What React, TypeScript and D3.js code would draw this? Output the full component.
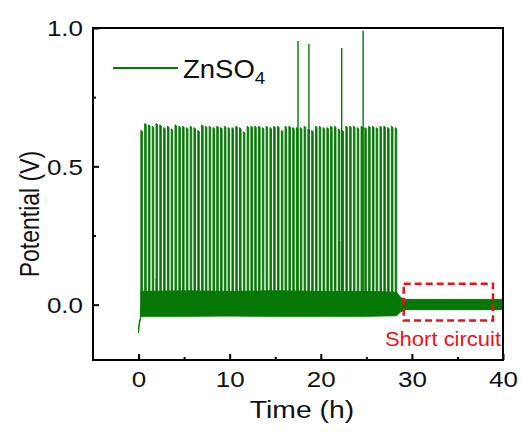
import React, { useEffect, useRef } from "react";
import * as d3 from "d3";

// regular stripping/plating cycles (h) and their peak potential (V)
const spikeTimes = [
  0.25, 0.67, 1.08, 1.5, 1.92, 2.33, 2.75, 3.17, 3.58, 4.0, 4.42, 4.83, 5.25, 5.67, 6.08, 6.5, 6.92,
  7.33, 7.75, 8.17, 8.58, 9.0, 9.42, 9.83, 10.25, 10.67, 11.08, 11.5, 11.92, 12.33, 12.75, 13.17,
  13.58, 14.0, 14.42, 14.83, 15.25, 15.67, 16.08, 16.5, 16.92, 17.33, 17.75, 18.17, 18.58, 19.0,
  19.42, 19.83, 20.25, 20.67, 21.08, 21.5, 21.92, 22.33, 22.75, 23.17, 23.58, 24.0, 24.42, 24.83,
  25.25, 25.67, 26.08, 26.5, 26.92, 27.33, 27.75, 28.17,
];
const spikePeaks = [
  0.63, 0.655, 0.65, 0.645, 0.655, 0.65, 0.64, 0.645, 0.635, 0.65, 0.645, 0.645, 0.64, 0.645, 0.64,
  0.63, 0.65, 0.645, 0.645, 0.64, 0.645, 0.64, 0.645, 0.64, 0.64, 0.645, 0.64, 0.625, 0.645, 0.645,
  0.645, 0.645, 0.64, 0.645, 0.64, 0.645, 0.645, 0.63, 0.645, 0.645, 0.64, 0.64, 0.64, 0.645,
  0.635, 0.63, 0.645, 0.645, 0.64, 0.64, 0.645, 0.645, 0.635, 0.63, 0.645, 0.645, 0.645, 0.64, 0.645,
  0.64, 0.645, 0.645, 0.64, 0.645, 0.645, 0.64, 0.645, 0.64,
];

// occasional overshoots
const tallTimes = [17.5, 18.7, 22.3, 24.65];
const tallPeaks = [0.953, 0.942, 0.928, 0.99];
const smallTimes = [1.95, 22.05];
const smallPeaks = [0.095, 0.23];

// dense baseline band (polarisation between pulses)
const bandTimes = [0, 0.08, 0.2, 0.26, 5, 10, 15, 20, 25, 28.3, 28.8, 29.4, 40];
const bandHigh = [-0.09, -0.06, -0.05, 0.048, 0.05, 0.048, 0.05, 0.048, 0.048, 0.045, 0.025, 0.019, 0.019];
const bandLow = [-0.102, -0.07, -0.056, -0.042, -0.042, -0.041, -0.042, -0.042, -0.042, -0.04, -0.025, -0.018, -0.018];

const xTicks = [0, 10, 20, 30, 40];
const xMinor = [5, 15, 25, 35];
const yTicks = [0, 0.5, 1.0];
const yMinor = [0.25, 0.75];

const shortBox = { x0: 29.1, x1: 38.9, y0: -0.057, y1: 0.076 };

const GREEN = "#067806";
const RED = "#e8141c";
const FONT = "Arial, 'Liberation Sans', sans-serif";
const STRETCH = 1.18; // the original text is a bit wider than plain Arial

const App = () => {
  const ref = useRef<SVGSVGElement>(null);

  useEffect(() => {
    document.body.style.margin = "0";
    const svg = d3.select(ref.current);
    svg.selectAll("*").remove();

    const marginLeft = 93;
    const marginRight = 19;
    const marginTop = 28;
    const marginBottom = 72;
    const width = 522;
    const height = 432;

    const x = d3.scaleLinear().domain([-5, 40]).range([marginLeft, width - marginRight]);
    const y = d3.scaleLinear().domain([-0.2, 1.0]).range([height - marginBottom, marginTop]);

    const g = svg.append("g");

    // baseline band
    const band = bandTimes.map((t, i) => ({ t, hi: bandHigh[i], lo: bandLow[i] }));
    g.append("path")
      .datum(band)
      .attr("fill", GREEN)
      .attr("stroke", GREEN)
      .attr("stroke-width", 1)
      .attr("d", d3.area<any>().x((d) => x(d.t)).y0((d) => y(d.lo)).y1((d) => y(d.hi)));

    // regular pulses
    const pulseWidth = 0.17;
    const pulses = spikeTimes.map((t, i) => ({ t, v: spikePeaks[i] }));
    g.append("g")
      .selectAll("path")
      .data(pulses)
      .join("path")
      .attr("fill", GREEN)
      .attr("stroke", GREEN)
      .attr("stroke-width", 0.9)
      .attr("d", (d) =>
        `M${x(d.t)},${y(0.03)}L${x(d.t)},${y(d.v)}L${x(d.t + pulseWidth)},${y(d.v - 0.004)}L${x(d.t + pulseWidth)},${y(0.03)}Z`
      );

    // overshoots
    const lines = [
      ...tallTimes.map((t, i) => ({ t, v: tallPeaks[i] })),
      ...smallTimes.map((t, i) => ({ t, v: smallPeaks[i] })),
    ];
    g.append("g")
      .selectAll("line")
      .data(lines)
      .join("line")
      .attr("stroke", GREEN)
      .attr("stroke-width", 1.4)
      .attr("x1", (d) => x(d.t))
      .attr("x2", (d) => x(d.t))
      .attr("y1", y(0.03))
      .attr("y2", (d) => y(d.v));

    // frame
    svg.append("rect")
      .attr("x", marginLeft)
      .attr("y", marginTop)
      .attr("width", width - marginLeft - marginRight)
      .attr("height", height - marginTop - marginBottom)
      .attr("fill", "none")
      .attr("stroke", "black")
      .attr("stroke-width", 2);

    // x axis
    const xAxis = svg.append("g").attr("transform", `translate(0,${height - marginBottom})`);
    xAxis.call(d3.axisBottom(x).tickValues(xTicks).tickSize(-6).tickFormat(d3.format("d")))
      .call((s) => s.select(".domain").remove());
    xAxis.selectAll(".tick line").attr("stroke-width", 2);
    xAxis.selectAll(".tick text")
      .attr("y", 0)
      .attr("dy", 0)
      .attr("transform", `translate(0,27) scale(${STRETCH},1)`)
      .attr("font-size", 22)
      .attr("font-family", FONT)
      .attr("fill", "#111");
    svg.append("g")
      .attr("transform", `translate(0,${height - marginBottom})`)
      .call(d3.axisBottom(x).tickValues(xMinor).tickSize(-3).tickFormat(() => ""))
      .call((s) => s.select(".domain").remove())
      .selectAll(".tick line").attr("stroke-width", 2);

    // y axis
    const yAxis = svg.append("g").attr("transform", `translate(${marginLeft},0)`);
    yAxis.call(d3.axisLeft(y).tickValues(yTicks).tickSize(-6).tickFormat(d3.format(".1f")))
      .call((s) => s.select(".domain").remove());
    yAxis.selectAll(".tick line").attr("stroke-width", 2);
    yAxis.selectAll(".tick text")
      .attr("x", 0)
      .attr("dy", "0.35em")
      .attr("transform", `translate(-10,0) scale(${STRETCH},1)`)
      .attr("font-size", 22)
      .attr("font-family", FONT)
      .attr("fill", "#111");
    svg.append("g")
      .attr("transform", `translate(${marginLeft},0)`)
      .call(d3.axisLeft(y).tickValues(yMinor).tickSize(-3).tickFormat(() => ""))
      .call((s) => s.select(".domain").remove())
      .selectAll(".tick line").attr("stroke-width", 2);

    // axis titles
    svg.append("text")
      .attr("transform", `translate(302,418) scale(${STRETCH},1)`)
      .attr("text-anchor", "middle")
      .attr("font-family", FONT)
      .attr("font-size", 24)
      .attr("fill", "#111")
      .text("Time (h)");
    svg.append("text")
      .attr("transform", `translate(39,214) rotate(-90) scale(1,${STRETCH})`)
      .attr("text-anchor", "middle")
      .attr("font-family", FONT)
      .attr("font-size", 23)
      .attr("fill", "#111")
      .text("Potential (V)");

    // legend
    svg.append("line")
      .attr("x1", 113)
      .attr("x2", 178)
      .attr("y1", 68)
      .attr("y2", 68)
      .attr("stroke", GREEN)
      .attr("stroke-width", 2);
    const leg = svg.append("text")
      .attr("transform", `translate(183,78) scale(1.1,1)`)
      .attr("font-family", FONT)
      .attr("font-size", 25)
      .attr("fill", "#111");
    leg.append("tspan").text("ZnSO");
    leg.append("tspan").attr("font-size", 17).attr("dy", 6).text("4");

    // short circuit marker
    svg.append("rect")
      .attr("x", x(shortBox.x0))
      .attr("y", y(shortBox.y1))
      .attr("width", x(shortBox.x1) - x(shortBox.x0))
      .attr("height", y(shortBox.y0) - y(shortBox.y1))
      .attr("fill", "none")
      .attr("stroke", RED)
      .attr("stroke-width", 2.5)
      .attr("stroke-dasharray", "7,4");
    svg.append("text")
      .attr("transform", `translate(443,346) scale(1.1,1)`)
      .attr("text-anchor", "middle")
      .attr("font-family", FONT)
      .attr("font-size", 20)
      .attr("fill", RED)
      .text("Short circuit");
  }, []);

  return <svg ref={ref} width={522} height={432} style={{ display: "block" }} />;
};

export default App;
